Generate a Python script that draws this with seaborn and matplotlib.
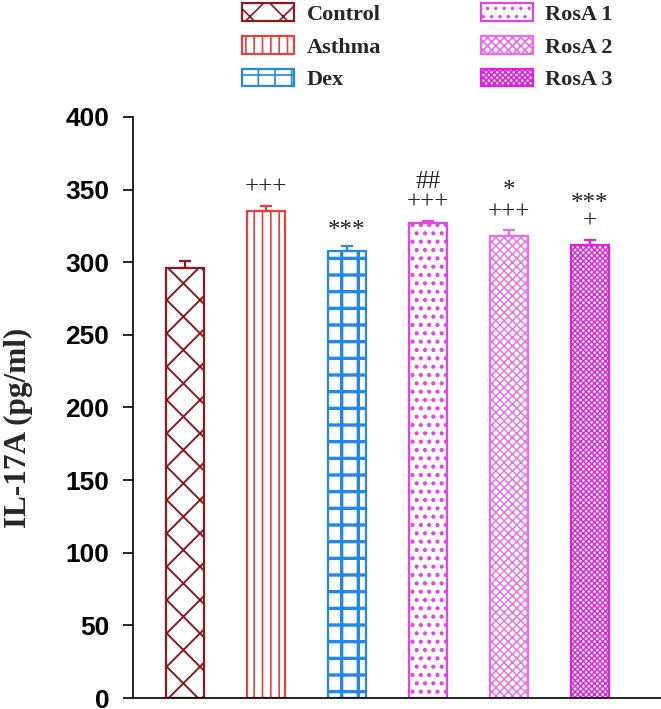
import numpy as np
import pandas as pd
import matplotlib
matplotlib.use("Agg")
import matplotlib.pyplot as plt
from matplotlib.patches import Patch
import seaborn as sns

# Data
groups = ["Control", "Asthma", "Dex", "RosA 1", "RosA 2", "RosA 3"]
means = [296, 335, 308, 327, 318, 312]
sems = [5, 4, 3, 1.5, 4, 3.5]
# significance marks, listed bottom to top
marks = [[], ["+++"], ["***"], ["+++", "##"], ["+++", "*"], ["+", "***"]]
yticks = [0, 50, 100, 150, 200, 250, 300, 350, 400]

colors = ["#8B1A1A", "#E8403A", "#2388E6", "#E544E5", "#EC6AEC", "#E21EE2"]
hatches = ["x", "||", "+", "..", "xxxx", "xxxxxx"]
hatch_lw = [1.4, 1.2, 2.4, 1.8, 1.0, 1.0]

sns.set_theme(style="ticks")
plt.rcParams["hatch.linewidth"] = 1.2

df = pd.DataFrame({"Group": groups, "Value": means})

fig = plt.figure(figsize=(6.61, 7.09), dpi=100)
ax = fig.add_axes([0.201, 0.0155, 0.799, 0.8195])

sns.barplot(data=df, x="Group", y="Value", hue="Group", palette=colors,
            fill=False, width=0.47, linewidth=1.6, errorbar=None,
            legend=False, ax=ax)

for patch, col, h, lw in zip(ax.patches, colors, hatches, hatch_lw):
    patch.set_edgecolor(col)
    patch.set_facecolor("white")
    patch.set_hatch(h)
    if hasattr(patch, "set_hatch_linewidth"):
        patch.set_hatch_linewidth(lw)

# upper error bars in bar colour
xs = [p.get_x() + p.get_width() / 2 for p in ax.patches]
for x, m, s, col in zip(xs, means, sems, colors):
    ax.errorbar(x, m, yerr=[[0], [s]], fmt="none", ecolor=col,
                elinewidth=1.6, capsize=4.5, capthick=1.6, zorder=3)

# significance marks (asterisks sit high in the glyph, so nudge them down)
for x, m, s, mk in zip(xs, means, sems, marks):
    off = 13
    for txt in mk:
        dy = -2 if txt.startswith("*") and len(txt) > 1 else 0
        ax.annotate(txt, (x, m + s), xytext=(0, off + dy), textcoords="offset points",
                    ha="center", va="center", fontsize=18,
                    family="Liberation Serif", color="#222222")
        off += 15

ax.set_xlim(-0.64, 5.88)
ax.set_ylim(0, 400)
ax.set_yticks(yticks)
ax.set_yticklabels([str(t) for t in yticks], fontsize=19, fontweight="bold",
                   family="Liberation Sans")
ax.set_xticks([])
ax.set_xlabel("")
ax.set_ylabel("IL-17A (pg/ml)", fontsize=22.5, fontweight="bold",
              family="Liberation Serif")
ax.yaxis.set_label_coords(-0.19, 0.465)
ax.tick_params(axis="y", direction="out", length=7, width=1.2, colors="black", pad=10)
for sp in ["top", "right"]:
    ax.spines[sp].set_visible(False)
for sp in ["left", "bottom"]:
    ax.spines[sp].set_color("black")
    ax.spines[sp].set_linewidth(1.2)

handles = [Patch(facecolor="white", edgecolor=c, hatch=h, linewidth=1.6)
           for c, h in zip(colors, hatches)]
leg = fig.legend(handles, groups, ncol=2, loc="upper left",
                 bbox_to_anchor=(0.361, 1.0), frameon=False,
                 prop={"family": "Liberation Serif", "weight": "bold", "size": 16},
                 handlelength=2.35, handleheight=0.85, handletextpad=0.55,
                 columnspacing=4.5, labelspacing=0.5, borderpad=0.15,
                 borderaxespad=0)

fig.savefig("out.png", dpi=100)
